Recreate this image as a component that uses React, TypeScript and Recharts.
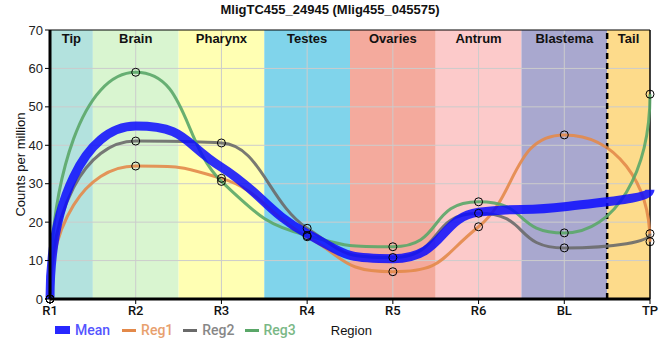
import React from 'react';
import { LineChart, Line, XAxis, YAxis, ReferenceArea, ReferenceLine } from 'recharts';

const title = 'MligTC455_24945 (Mlig455_045575)';
const categories = ['R1', 'R2', 'R3', 'R4', 'R5', 'R6', 'BL', 'TP'];
const meanValues = [0, 45.0, 34.3, 17.0, 10.5, 22.6, 24.0, 28.4];
const reg1Values = [0, 34.6, 31.4, 16.2, 7.1, 18.8, 42.7, 14.9];
const reg2Values = [0, 41.1, 40.6, 18.4, 10.8, 22.3, 13.3, 17.0];
const reg3Values = [0, 59.0, 30.6, 16.5, 13.6, 25.3, 17.2, 53.3];
const yTicks = [0, 10, 20, 30, 40, 50, 60, 70];
const regionNames = ['Tip', 'Brain', 'Pharynx', 'Testes', 'Ovaries', 'Antrum', 'Blastema', 'Tail'];
const regionColors = ['#b3e2de', '#d9f5d0', '#ffffb3', '#80d4eb', '#f4aa9d', '#fccaca', '#a9a8cf', '#fddb8b'];

const data = categories.map((c, i) => ({
  x: i,
  mean: meanValues[i],
  reg1: reg1Values[i],
  reg2: reg2Values[i],
  reg3: reg3Values[i],
}));

const series = [
  { key: 'reg1', name: 'Reg1', color: '#e3894a' },
  { key: 'reg2', name: 'Reg2', color: '#6a6a6a' },
  { key: 'reg3', name: 'Reg3', color: '#5aa768' },
];

const last = categories.length - 1;

// Smooth curve with strong tension (flat plateaus at extremes, steep ends)
const END_HANDLE = 0.55;
const EXT_HANDLE = 0.6;
const MID_HANDLE = 0.45;
function tensionCurve(context: any) {
  let xs: number[] = [];
  let ys: number[] = [];
  return {
    areaStart() {},
    areaEnd() {},
    lineStart() {
      xs = [];
      ys = [];
    },
    point(x: number, y: number) {
      xs.push(+x);
      ys.push(+y);
    },
    lineEnd() {
      const n = xs.length;
      if (!n) return;
      context.moveTo(xs[0], ys[0]);
      if (n === 1) return;
      if (n === 2) {
        context.lineTo(xs[1], ys[1]);
        return;
      }
      const m: number[] = new Array(n).fill(0);
      for (let i = 1; i < n - 1; i++) {
        const h0 = xs[i] - xs[i - 1];
        const h1 = xs[i + 1] - xs[i];
        const s0 = (ys[i] - ys[i - 1]) / h0;
        const s1 = (ys[i + 1] - ys[i]) / h1;
        const p = (s0 * h1 + s1 * h0) / (h0 + h1);
        m[i] = (Math.sign(s0) + Math.sign(s1)) * Math.min(Math.abs(s0), Math.abs(s1), 0.5 * Math.abs(p)) || 0;
      }
      for (let i = 0; i < n - 1; i++) {
        const h = xs[i + 1] - xs[i];
        const lo = Math.min(ys[i], ys[i + 1]);
        const hi = Math.max(ys[i], ys[i + 1]);
        const clamp = (v: number) => Math.max(lo, Math.min(hi, v));
        let c1x: number, c1y: number, c2x: number, c2y: number;
        if (i === 0) {
          c1x = xs[0];
          c1y = ys[0] + END_HANDLE * (ys[1] - ys[0]);
        } else {
          const c = m[i] === 0 ? EXT_HANDLE : MID_HANDLE;
          c1x = xs[i] + c * h;
          c1y = clamp(ys[i] + m[i] * c * h);
        }
        if (i + 1 === n - 1) {
          c2x = xs[n - 1];
          c2y = ys[n - 1] + END_HANDLE * (ys[n - 2] - ys[n - 1]);
        } else {
          const c = m[i + 1] === 0 ? EXT_HANDLE : MID_HANDLE;
          c2x = xs[i + 1] - c * h;
          c2y = clamp(ys[i + 1] - m[i + 1] * c * h);
        }
        context.bezierCurveTo(c1x, c1y, c2x, c2y, xs[i + 1], ys[i + 1]);
      }
    },
  };
}

export default function App() {
  return (
    <div style={{ position: 'absolute', left: 0, top: 0, width: 660, height: 360, fontFamily: 'Arial, "Liberation Sans", sans-serif' }}>
      <div style={{ position: 'absolute', left: 0, top: 2, width: 660, textAlign: 'center', fontWeight: 'bold', fontSize: 13, color: '#111' }}>
        {title}
      </div>
      <LineChart width={660} height={360} data={data} margin={{ top: 30, right: 10, bottom: 41, left: 0 }}>
        {regionNames.map((name, i) => (
          <ReferenceArea
            key={name}
            x1={Math.max(0, i - 0.5)}
            x2={Math.min(last, i + 0.5)}
            y1={0}
            y2={70}
            fill={regionColors[i]}
            fillOpacity={1}
            stroke="none"
            ifOverflow="hidden"
            label={{ value: name, position: 'insideTop', offset: 4, fontWeight: 'bold', fontSize: 13, fill: '#111', fontFamily: 'Arial, "Liberation Sans", sans-serif' }}
          />
        ))}
        {yTicks.slice(1, -1).map((t) => (
          <ReferenceLine key={'h' + t} y={t} stroke="#cccccc" strokeWidth={1} />
        ))}
        {categories.slice(1, -1).map((c, i) => (
          <ReferenceLine key={'v' + c} x={i + 1} stroke="#cccccc" strokeWidth={1} />
        ))}
        <ReferenceLine y={70} stroke="#000" strokeWidth={1} />
        <ReferenceLine x={last} stroke="#000" strokeWidth={1.5} />
        <ReferenceLine x={last - 0.5} stroke="#000" strokeWidth={2.5} strokeDasharray="6 4" />
        <XAxis
          dataKey="x"
          type="number"
          domain={[0, last]}
          ticks={categories.map((_, i) => i)}
          tickFormatter={(v: number) => categories[v]}
          height={20}
          tickSize={5}
          axisLine={{ stroke: '#000', strokeWidth: 3 }}
          tickLine={{ stroke: '#000' }}
          tick={{ fill: '#111', fontSize: 13, fontFamily: 'Roboto, sans-serif', fontWeight: 500 }}
          interval={0}
          allowDecimals={false}
        />
        <YAxis
          type="number"
          domain={[0, 70]}
          ticks={yTicks}
          width={50}
          tickSize={5}
          axisLine={{ stroke: '#000', strokeWidth: 3 }}
          tickLine={{ stroke: '#000' }}
          tick={{ fill: '#222', fontSize: 13, fontFamily: 'Arial, "Liberation Sans", sans-serif' }}
          label={{ value: 'Counts per million', angle: -90, position: 'insideLeft', offset: 20, style: { textAnchor: 'middle' }, fontSize: 13, fill: '#111', fontFamily: 'Arial, "Liberation Sans", sans-serif' }}
        />
        {series.map((s) => (
          <Line key={s.key} dataKey={s.key} type={tensionCurve as any} stroke={s.color} strokeWidth={3} strokeOpacity={0.9} dot={false} isAnimationActive={false} />
        ))}
        <Line dataKey="mean" type={tensionCurve as any} stroke="#0a0aff" strokeWidth={9} strokeOpacity={0.85} dot={false} isAnimationActive={false} />
        {series.map((s) => (
          <Line key={s.key + 'dots'} dataKey={s.key} type="linear" stroke="none" strokeWidth={0} legendType="none" dot={{ r: 4, fill: 'none', stroke: '#000', strokeWidth: 1 }} isAnimationActive={false} />
        ))}
      </LineChart>
      <div style={{ position: 'absolute', left: 55, top: 320, height: 20, display: 'flex', alignItems: 'center', fontFamily: 'Roboto, sans-serif', fontSize: 14, fontWeight: 500 }}>
        <span style={{ display: 'inline-block', width: 15, height: 8, background: '#2828ff', marginRight: 5 }} />
        <span style={{ color: '#5555ff', marginRight: 12 }}>Mean</span>
        {series.map((s) => (
          <React.Fragment key={s.key}>
            <span style={{ display: 'inline-block', width: 14, height: 3, background: s.color, marginRight: 5 }} />
            <span style={{ color: s.color, opacity: 0.8, marginRight: 10 }}>{s.name}</span>
          </React.Fragment>
        ))}
        <span style={{ color: '#111', fontFamily: 'Arial, "Liberation Sans", sans-serif', fontWeight: 400, fontSize: 13, marginLeft: 25 }}>Region</span>
      </div>
    </div>
  );
}
